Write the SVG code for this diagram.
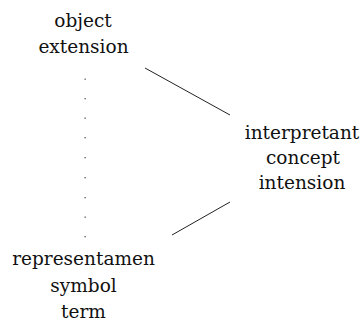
<svg xmlns="http://www.w3.org/2000/svg" width="360" height="326" viewBox="0 0 360 326">
<style>
.t{font-size:18.5px;fill:#111;text-anchor:middle}
.ln{stroke:#222;stroke-width:1;fill:none}
.dot{fill:#555}
</style>
<rect width="360" height="326" fill="#fff"/>
<g id="connectors">
<line class="ln" x1="145" y1="68" x2="230" y2="115"/>
<line class="ln" x1="230" y1="202" x2="172" y2="235"/>
<g id="dotted">
<rect class="dot" x="84.5" y="78.5" width="1.3" height="1.3"/>
<rect class="dot" x="84.5" y="98" width="1.3" height="1.3"/>
<rect class="dot" x="84.5" y="117.5" width="1.3" height="1.3"/>
<rect class="dot" x="84.5" y="137" width="1.3" height="1.3"/>
<rect class="dot" x="84.5" y="157" width="1.3" height="1.3"/>
<rect class="dot" x="84.5" y="177" width="1.3" height="1.3"/>
<rect class="dot" x="84.5" y="197" width="1.3" height="1.3"/>
<rect class="dot" x="84.5" y="216.5" width="1.3" height="1.3"/>
<rect class="dot" x="84.5" y="236" width="1.3" height="1.3"/>
</g>
</g>
<g id="object" class="t" style="font-family:'DejaVu Serif',serif">
<text x="83" y="27">object</text>
<text x="83.5" y="53">extension</text>
</g>
<g id="interpretant" class="t" style="font-family:'DejaVu Serif',serif">
<text x="302" y="139">interpretant</text>
<text x="303" y="164">concept</text>
<text x="302" y="189">intension</text>
</g>
<g id="representamen" class="t" style="font-family:'DejaVu Serif',serif">
<text x="83.5" y="265">representamen</text>
<text x="83.5" y="292">symbol</text>
<text x="83.5" y="318">term</text>
</g>
</svg>
